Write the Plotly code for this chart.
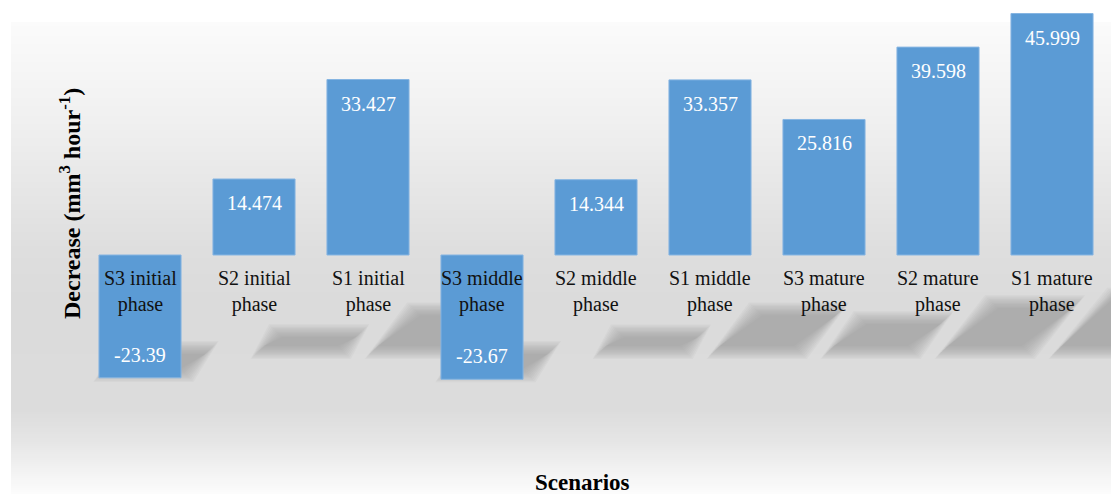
import plotly.graph_objects as go

# ---- data -------------------------------------------------------------
categories = [
    "S3 initial phase", "S2 initial phase", "S1 initial phase",
    "S3 middle phase", "S2 middle phase", "S1 middle phase",
    "S3 mature phase", "S2 mature phase", "S1 mature phase",
]
values = [-23.39, 14.474, 33.427, -23.67, 14.344, 33.357, 25.816, 39.598, 45.999]

x_title = "Scenarios"
y_title = "Decrease (mm<sup>3</sup> hour<sup>-1</sup>)"

# ---- canvas / scale settings -----------------------------------------
W, H = 1116, 494
PLOT_LEFT, PLOT_RIGHT = 83, 1109      # px span of the 9 category slots
ZERO_PX = 255                          # px row of y = 0
PX_PER_UNIT = 5.25                     # vertical px per data unit
SLOT = (PLOT_RIGHT - PLOT_LEFT) / len(categories)
BAR_W = 0.72

x_range = [-0.5 - PLOT_LEFT / SLOT, len(categories) - 0.5 + (W - PLOT_RIGHT) / SLOT]
y_range = [-(H - ZERO_PX) / PX_PER_UNIT, ZERO_PX / PX_PER_UNIT]

SERIF = "Liberation Serif"
BAR_COLOR = "#5B9BD5"

xs = list(range(len(categories)))

fig = go.Figure()
fig.add_trace(go.Bar(
    x=xs, y=values, width=BAR_W,
    marker=dict(color=BAR_COLOR, line=dict(color="#86b5e2", width=1)),
    hoverinfo="y", showlegend=False,
))

shapes = []

# background: vertical grey gradient panel
BG_LEFT, BG_RIGHT, BG_TOP = 11, 1111, 22
stops = [(22, 251), (120, 240), (250, 222), (300, 219), (410, 220),
         (440, 229), (470, 242), (494, 252)]


def grey_at(p):
    for (p0, g0), (p1, g1) in zip(stops, stops[1:]):
        if p0 <= p <= p1:
            t = (p - p0) / (p1 - p0)
            return g0 + (g1 - g0) * t
    return stops[-1][1]


step = 2
p = BG_TOP
while p < H:
    g = int(round(grey_at(p + step / 2)))
    shapes.append(dict(
        type="rect", xref="paper", yref="paper", layer="below",
        x0=BG_LEFT / W, x1=BG_RIGHT / W,
        y0=1 - min(p + step, H) / H, y1=1 - p / H,
        fillcolor=f"rgb({g},{g},{g})", line=dict(width=0),
    ))
    p += step

# soft perspective shadows cast on the floor behind each bar
FLOOR = -95 / PX_PER_UNIT              # floor line in data units
SHADOW_RATIO = 0.22                    # shadow length per unit of bar value
SKEW = 1.1 * PX_PER_UNIT / SLOT        # x-slots per data unit of shadow height
ux = 1 / SLOT                          # one px in x data units
uy = 1 / PX_PER_UNIT                   # one px in y data units
BG_RIGHT_X = x_range[0] + BG_RIGHT / SLOT   # shadows end at the panel edge

for i, v in enumerate(values):
    h = SHADOW_RATIO * abs(v)
    if v >= 0:
        y_lo, y_hi = FLOOR, FLOOR + h
        off_lo, off_hi = 0.41, 0.41 + h * SKEW
    else:
        h *= 0.85
        y_lo, y_hi = FLOOR - h, FLOOR
        off_lo = 0.03
        off_hi = off_lo + h * SKEW
    # stacked translucent layers from an inset core outwards give a soft edge
    for k in range(11):
        e = -4 + k * 1.3
        ex, ey = e * ux, e * uy
        l_lo = i - BAR_W / 2 + off_lo - ex
        r_lo = min(i + BAR_W / 2 + off_lo + ex, BG_RIGHT_X)
        l_hi = i - BAR_W / 2 + off_hi - ex
        r_hi = min(i + BAR_W / 2 + off_hi + ex, BG_RIGHT_X)
        if l_hi >= BG_RIGHT_X:
            l_hi = BG_RIGHT_X
        path = (f"M {l_lo},{y_lo - ey} L {r_lo},{y_lo - ey} "
                f"L {r_hi},{y_hi + ey} L {l_hi},{y_hi + ey} Z")
        shapes.append(dict(
            type="path", xref="x", yref="y", layer="below", path=path,
            fillcolor="rgb(140,140,140)", opacity=0.07, line=dict(width=0),
        ))

annotations = []

# category names sitting just under the zero line
for i, name in enumerate(categories):
    first, last = name.rsplit(" ", 1)
    annotations.append(dict(
        x=i, y=0, xref="x", yref="y", text=f"{first}<br>{last}",
        showarrow=False, yanchor="middle", yshift=-36,
        font=dict(family=SERIF, size=20, color="#111111"),
    ))

# value labels inside the bar ends
for i, v in enumerate(values):
    annotations.append(dict(
        x=i, y=v, xref="x", yref="y", text=str(v),
        showarrow=False, yanchor="middle", yshift=-24 if v >= 0 else 23,
        font=dict(family=SERIF, size=20, color="#ffffff"),
    ))

# axis titles
annotations.append(dict(
    x=582 / W, y=1 - 482 / H, xref="paper", yref="paper", text=f"<b>{x_title}</b>",
    showarrow=False, xanchor="center", yanchor="middle",
    font=dict(family=SERIF, size=23, color="#000000"),
))
annotations.append(dict(
    x=70 / W, y=1 - 204 / H, xref="paper", yref="paper", text=f"<b>{y_title}</b>",
    showarrow=False, xanchor="center", yanchor="middle", textangle=-90,
    font=dict(family=SERIF, size=24, color="#000000"),
))

fig.update_layout(
    width=W, height=H, autosize=False,
    margin=dict(l=0, r=0, t=0, b=0, pad=0),
    paper_bgcolor="#ffffff", plot_bgcolor="rgba(0,0,0,0)",
    xaxis=dict(range=x_range, visible=False, fixedrange=True),
    yaxis=dict(range=y_range, visible=False, fixedrange=True),
    shapes=shapes, annotations=annotations,
    bargap=0.28,
)

fig.write_html("out.html")
